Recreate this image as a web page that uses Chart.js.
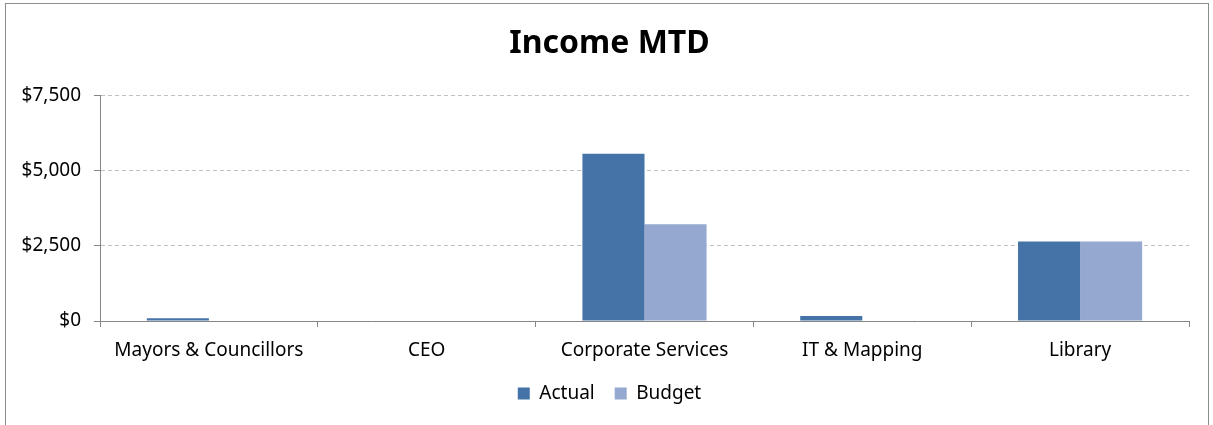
<!DOCTYPE html>
<html>
<head>
<meta charset="utf-8">
<script src="https://cdn.jsdelivr.net/npm/chart.js@4"></script>
<style>
  html, body { margin: 0; padding: 0; background: #fff; }
  #frame { position: absolute; left: 5px; top: 3px; width: 1204px; height: 440px; border: 1px solid #8c8c8c; box-sizing: border-box; }
  #wrap { position: absolute; left: 0; top: 0; width: 1213px; height: 425px; }
</style>
</head>
<body>
<div id="frame"></div>
<div id="wrap"><canvas id="chart" width="1213" height="425"></canvas></div>
<script>
// chart data
const categories = ['Mayors & Councillors', 'CEO', 'Corporate Services', 'IT & Mapping', 'Library'];
const actual = [90, 0, 5560, 165, 2640];
const budget = [0, 0, 3220, 0, 2640];
const yTicks = [0, 2500, 5000, 7500];

const FONT = '"Noto Sans", "Open Sans", sans-serif';

const ctx = document.getElementById('chart').getContext('2d');
new Chart(ctx, {
  type: 'bar',
  data: {
    labels: categories,
    datasets: [
      { label: 'Actual', data: actual, backgroundColor: '#4573a7', borderWidth: 0 },
      { label: 'Budget', data: budget, backgroundColor: '#95a9d0', borderWidth: 0 }
    ]
  },
  options: {
    responsive: false,
    animation: false,
    layout: { padding: { left: 30, right: 24, top: 0, bottom: 12 } },
    datasets: { bar: { categoryPercentage: 0.57, barPercentage: 1 } },
    scales: {
      x: {
        grid: { offset: true, drawOnChartArea: false, tickLength: 6, tickColor: '#868686' },
        border: { color: '#868686', width: 1 },
        ticks: { color: '#000', font: { family: FONT, size: 19 }, padding: 12 },
        afterFit: s => { s.height = 43; }
      },
      y: {
        min: 0, max: 7500,
        afterBuildTicks: s => { s.ticks = yTicks.map(v => ({ value: v })); },
        grid: { color: '#c0c0c0', tickColor: '#868686', tickLength: 6, tickBorderDash: [] },
        border: { color: '#868686', width: 1, dash: [4, 3] },
        ticks: {
          color: '#000', font: { family: FONT, size: 19 }, padding: 13,
          callback: v => '$' + v.toLocaleString('en-US')
        },
        // narrow axis box so the title/legend centre like the original; don't clip the labels
        afterFit: s => { s.width = 70; s._computeLabelArea = () => undefined; }
      }
    },
    plugins: {
      title: {
        display: true, text: 'Income MTD', color: '#000',
        font: { family: FONT, size: 32, weight: 'bold' },
        padding: { top: 25, bottom: 32 }
      },
      legend: {
        position: 'bottom',
        labels: { color: '#000', font: { family: FONT, size: 19 }, boxWidth: 12, boxHeight: 12, padding: 20 }
      },
      tooltip: { enabled: false }
    }
  }
});
</script>
</body>
</html>
